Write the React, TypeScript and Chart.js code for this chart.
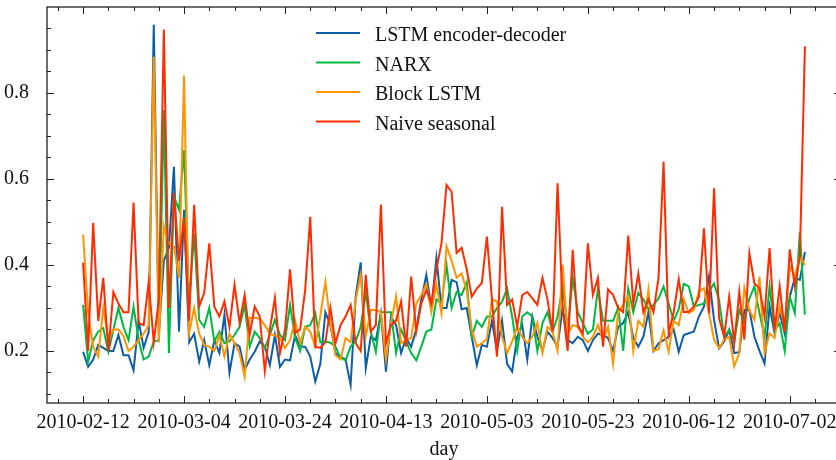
import React, { useEffect, useRef } from 'react';
import { Chart, registerables } from 'chart.js';

Chart.register(...registerables);

// ---- categories (daily, starting 2010-02-12) ----
const START_YEAR = 2010;
const START_MONTH = 1; // February (0-based)
const START_DAY = 12;
const N_DAYS = 144;
const DAYS: string[] = Array.from({ length: N_DAYS }, (_, i) =>
  new Date(Date.UTC(START_YEAR, START_MONTH, START_DAY + i)).toISOString().slice(0, 10)
);

// ---- tick positions ----
const X_LABEL_DAYS = [0, 20, 40, 60, 80, 100, 120, 140];
const Y_MAJOR = [0.2, 0.4, 0.6, 0.8];

// ---- series ----
const LSTM_ED = [
  0.198, 0.163, 0.18, 0.214, 0.207, 0.2, 0.2, 0.237, 0.19, 0.19,
  0.155, 0.27, 0.207, 0.245, 0.958, 0.24, 0.41, 0.44, 0.628, 0.245,
  0.528, 0.22, 0.24, 0.175, 0.225, 0.167, 0.225, 0.195, 0.284, 0.149,
  0.218, 0.21, 0.156, 0.18, 0.198, 0.222, 0.21, 0.167, 0.237, 0.163,
  0.18, 0.178, 0.237, 0.21, 0.21, 0.187, 0.129, 0.17, 0.29, 0.26,
  0.195, 0.187, 0.18, 0.121, 0.326, 0.406, 0.16, 0.233, 0.225, 0.288,
  0.152, 0.28, 0.26, 0.195, 0.23, 0.21, 0.25, 0.32, 0.377, 0.3,
  0.416, 0.3, 0.3, 0.365, 0.36, 0.297, 0.3, 0.233, 0.167, 0.214,
  0.21, 0.27, 0.2, 0.27, 0.17, 0.152, 0.233, 0.26, 0.18, 0.28,
  0.233, 0.2, 0.245, 0.23, 0.21, 0.3, 0.225, 0.218, 0.233, 0.225,
  0.2, 0.225, 0.24, 0.237, 0.23, 0.2, 0.256, 0.265, 0.29, 0.23,
  0.21, 0.233, 0.29, 0.2, 0.218, 0.225, 0.233, 0.25, 0.198, 0.237,
  0.241, 0.245, 0.28, 0.303, 0.373, 0.272, 0.206, 0.222, 0.249, 0.195,
  0.197, 0.295, 0.295, 0.233, 0.2, 0.171, 0.303, 0.24, 0.288, 0.24,
  0.326, 0.37, 0.365, 0.43,
];
const NARX = [
  0.307, 0.175, 0.225, 0.245, 0.253, 0.198, 0.249, 0.3, 0.256, 0.225,
  0.303, 0.225, 0.18, 0.187, 0.222, 0.225, 0.76, 0.195, 0.56, 0.528,
  0.667, 0.31, 0.474, 0.272, 0.256, 0.3, 0.222, 0.245, 0.218, 0.222,
  0.237, 0.256, 0.307, 0.21, 0.245, 0.23, 0.207, 0.237, 0.272, 0.237,
  0.225, 0.307, 0.23, 0.2, 0.256, 0.26, 0.288, 0.22, 0.222, 0.219,
  0.21, 0.184, 0.178, 0.21, 0.222, 0.256, 0.337, 0.245, 0.198, 0.29,
  0.29, 0.29, 0.195, 0.25, 0.222, 0.195, 0.178, 0.21, 0.245, 0.25,
  0.32, 0.31, 0.4, 0.3, 0.337, 0.33, 0.36, 0.233, 0.27, 0.256,
  0.28, 0.28, 0.3, 0.314, 0.345, 0.28, 0.2, 0.28, 0.29, 0.28,
  0.2, 0.265, 0.29, 0.245, 0.28, 0.35, 0.25, 0.37, 0.29, 0.265,
  0.24, 0.25, 0.345, 0.27, 0.27, 0.27, 0.3, 0.2, 0.345, 0.29,
  0.335, 0.32, 0.297, 0.307, 0.322, 0.35, 0.31, 0.27, 0.297, 0.356,
  0.35, 0.303, 0.307, 0.31, 0.338, 0.357, 0.318, 0.233, 0.249, 0.222,
  0.295, 0.268, 0.322, 0.35, 0.288, 0.233, 0.35, 0.249, 0.264, 0.2,
  0.326, 0.288, 0.477, 0.284,
];
const BLOCK_LSTM = [
  0.47, 0.29, 0.21, 0.187, 0.3, 0.23, 0.25, 0.25, 0.235, 0.2,
  0.21, 0.225, 0.24, 0.26, 0.884, 0.22, 0.49, 0.45, 0.443, 0.37,
  0.84, 0.24, 0.3, 0.24, 0.214, 0.21, 0.2, 0.237, 0.187, 0.24,
  0.218, 0.195, 0.14, 0.277, 0.277, 0.275, 0.26, 0.24, 0.236, 0.23,
  0.207, 0.225, 0.27, 0.218, 0.256, 0.245, 0.21, 0.282, 0.36, 0.265,
  0.19, 0.18, 0.23, 0.22, 0.318, 0.377, 0.233, 0.295, 0.295, 0.29,
  0.18, 0.265, 0.327, 0.218, 0.225, 0.23, 0.31, 0.33, 0.355, 0.29,
  0.355, 0.288, 0.443, 0.41, 0.37, 0.38, 0.34, 0.25, 0.21, 0.218,
  0.228, 0.32, 0.315, 0.233, 0.195, 0.222, 0.256, 0.233, 0.218, 0.233,
  0.265, 0.195, 0.256, 0.245, 0.2, 0.4, 0.24, 0.26, 0.256, 0.233,
  0.22, 0.233, 0.26, 0.225, 0.256, 0.17, 0.29, 0.307, 0.327, 0.2,
  0.27, 0.256, 0.343, 0.2, 0.204, 0.248, 0.198, 0.27, 0.26, 0.32,
  0.288, 0.295, 0.338, 0.346, 0.288, 0.226, 0.206, 0.226, 0.233, 0.164,
  0.195, 0.346, 0.295, 0.272, 0.373, 0.195, 0.241, 0.23, 0.303, 0.257,
  0.396, 0.373, 0.42, 0.4,
];
const NAIVE_SEASONAL = [
  0.405, 0.2, 0.498, 0.27, 0.37, 0.2, 0.337, 0.31, 0.29, 0.29,
  0.545, 0.265, 0.26, 0.36, 0.22, 0.32, 0.947, 0.3, 0.567, 0.41,
  0.51, 0.27, 0.54, 0.303, 0.335, 0.45, 0.303, 0.28, 0.315, 0.256,
  0.354, 0.265, 0.33, 0.237, 0.303, 0.28, 0.153, 0.25, 0.323, 0.195,
  0.248, 0.39, 0.242, 0.25, 0.342, 0.512, 0.21, 0.207, 0.22, 0.3,
  0.218, 0.26, 0.28, 0.307, 0.218, 0.2, 0.377, 0.245, 0.26, 0.54,
  0.218, 0.26, 0.27, 0.315, 0.21, 0.373, 0.245, 0.31, 0.342, 0.31,
  0.39, 0.45, 0.586, 0.57, 0.428, 0.44, 0.39, 0.326, 0.345, 0.358,
  0.466, 0.32, 0.187, 0.535, 0.307, 0.32, 0.256, 0.33, 0.337, 0.322,
  0.307, 0.37, 0.32, 0.245, 0.59, 0.3, 0.2, 0.435, 0.26, 0.24,
  0.45, 0.33, 0.37, 0.21, 0.343, 0.33, 0.3, 0.29, 0.468, 0.31,
  0.38, 0.29, 0.32, 0.29, 0.37, 0.64, 0.24, 0.29, 0.367, 0.29,
  0.291, 0.303, 0.326, 0.485, 0.288, 0.578, 0.276, 0.233, 0.326, 0.218,
  0.338, 0.226, 0.427, 0.357, 0.346, 0.28, 0.439, 0.249, 0.35, 0.245,
  0.436, 0.35, 0.419, 0.908,
];

const SERIES_NAMES = ['LSTM encoder-decoder', 'NARX', 'Block LSTM', 'Naive seasonal'];
const SERIES_VALUES = [LSTM_ED, NARX, BLOCK_LSTM, NAIVE_SEASONAL];
const SERIES_COLORS = ['#0C5DA5', '#00B945', '#FF9500', '#FF2C00'];

const FONT_FAMILY = '"Liberation Serif", "Times New Roman", "DejaVu Serif", serif';
const TEXT_COLOR = '#111111';

const axesFramePlugin = {
  id: 'axesFrame',
  afterDatasetsDraw(chart: any) {
    const { ctx, chartArea } = chart;
    const { left, right, top, bottom } = chartArea;
    const xs = chart.scales.x;
    const ys = chart.scales.y;
    ctx.save();
    ctx.strokeStyle = '#222222';
    ctx.lineWidth = 1;
    ctx.beginPath();
    for (let d = -5; d <= 150; d += 5) {
      const px = Math.round(xs.getPixelForValue(d)) + 0.5;
      if (px < left || px > right) continue;
      const len = d % 20 === 0 ? 7 : 4;
      ctx.moveTo(px, bottom);
      ctx.lineTo(px, bottom - len);
      ctx.moveTo(px, top);
      ctx.lineTo(px, top + len);
    }
    for (let k = 2; k <= 19; k++) {
      const v = k * 0.05;
      const py = Math.round(ys.getPixelForValue(v)) + 0.5;
      if (py < top || py > bottom) continue;
      const len = k % 4 === 0 ? 7 : 4;
      ctx.moveTo(left, py);
      ctx.lineTo(left + len, py);
      ctx.moveTo(right, py);
      ctx.lineTo(right - len, py);
    }
    ctx.stroke();
    ctx.lineWidth = 1.3;
    ctx.strokeRect(left, top, right - left, bottom - top);
    ctx.restore();
  },
};

const innerLegendPlugin = {
  id: 'innerLegend',
  afterDraw(chart: any) {
    const { ctx, chartArea } = chart;
    const x0 = chartArea.left + 269;
    const y0 = chartArea.top + 26;
    const rowH = 29.5;
    ctx.save();
    ctx.font = `20px ${FONT_FAMILY}`;
    ctx.textBaseline = 'alphabetic';
    ctx.textAlign = 'left';
    chart.data.datasets.forEach((ds: any, i: number) => {
      const y = y0 + i * rowH;
      ctx.strokeStyle = ds.borderColor;
      ctx.lineWidth = 2.2;
      ctx.beginPath();
      ctx.moveTo(x0, y);
      ctx.lineTo(x0 + 44, y);
      ctx.stroke();
      ctx.fillStyle = TEXT_COLOR;
      ctx.fillText(ds.label, x0 + 59, y + 8);
    });
    ctx.restore();
  },
};

export default function App() {
  const canvasRef = useRef<HTMLCanvasElement | null>(null);

  useEffect(() => {
    const canvas = canvasRef.current;
    if (!canvas) return;
    const chart = new Chart(canvas, {
      type: 'line',
      data: {
        datasets: SERIES_VALUES.map((vals, i) => ({
          label: SERIES_NAMES[i],
          data: vals.map((y, idx) => ({ x: idx, y })),
          borderColor: SERIES_COLORS[i],
          backgroundColor: SERIES_COLORS[i],
          borderWidth: 2,
          pointRadius: 0,
          tension: 0,
          fill: false,
          order: SERIES_VALUES.length - 1 - i,
        })),
      },
      options: {
        animation: false,
        responsive: false,
        devicePixelRatio: 1,
        layout: { padding: { left: 0, top: 7, right: 19, bottom: 0 } },
        plugins: {
          legend: { display: false },
          tooltip: { enabled: false },
        },
        scales: {
          x: {
            type: 'linear',
            min: -7.15,
            max: 150.15,
            grid: { display: false },
            border: { display: false },
            afterBuildTicks: (scale: any) => {
              scale.ticks = X_LABEL_DAYS.map((v) => ({ value: v }));
            },
            ticks: {
              autoSkip: false,
              maxRotation: 0,
              padding: 0,
              color: TEXT_COLOR,
              font: { family: FONT_FAMILY, size: 20 },
              callback: (v: any) => DAYS[Math.round(Number(v))] ?? '',
            },
            title: {
              display: true,
              text: 'day',
              color: TEXT_COLOR,
              font: { family: FONT_FAMILY, size: 20, lineHeight: 1 },
              padding: { top: 0, bottom: 0 },
            },
            afterFit: (scale: any) => {
              scale.height = 57;
              scale.paddingLeft = 0;
              scale.paddingRight = 0;
            },
          },
          y: {
            type: 'linear',
            min: 0.079,
            max: 0.9995,
            grid: { display: false },
            border: { display: false },
            afterBuildTicks: (scale: any) => {
              scale.ticks = Y_MAJOR.map((v) => ({ value: v }));
            },
            ticks: {
              padding: 10,
              color: TEXT_COLOR,
              font: { family: FONT_FAMILY, size: 20 },
              callback: (v: any) => Number(v).toFixed(1),
            },
            afterFit: (scale: any) => {
              scale.width = 47;
              scale.paddingTop = 0;
              scale.paddingBottom = 0;
            },
          },
        },
      } as any,
      plugins: [axesFramePlugin, innerLegendPlugin],
    });
    return () => chart.destroy();
  }, []);

  return (
    <div
      style={{
        position: 'fixed',
        left: 0,
        top: 0,
        width: 836,
        height: 460,
        overflow: 'hidden',
        background: '#ffffff',
      }}
    >
      <canvas ref={canvasRef} width={860} height={460} style={{ width: 860, height: 460, display: 'block' }} />
    </div>
  );
}
